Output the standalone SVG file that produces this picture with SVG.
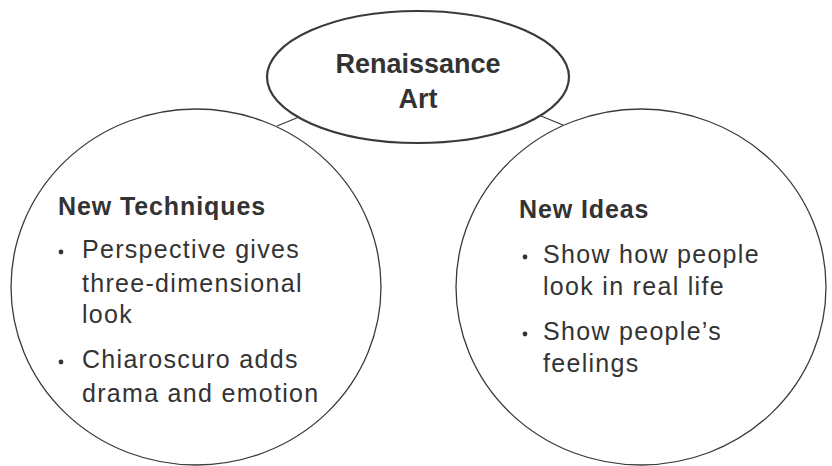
<svg xmlns="http://www.w3.org/2000/svg" width="832" height="466" viewBox="0 0 832 466">
<style>
.bg{fill:#fff}
.node{fill:#fff;stroke:#3a3a3a;stroke-width:1.3}
.main{fill:#fff;stroke:#3a3a3a;stroke-width:2.2}
.conn{stroke:#3a3a3a;stroke-width:1.3;fill:none}
text{font-family:"Liberation Sans",Arial,sans-serif;fill:#333}
.title{font-size:27px;font-weight:bold;text-anchor:middle}
.head{font-size:25px;font-weight:bold;letter-spacing:0.9px}
.item{font-size:25px;letter-spacing:1.3px}
.dot{fill:#333}
</style>
<rect class="bg" x="0" y="0" width="832" height="466"/>
<g id="connectors">
<line class="conn" x1="277" y1="126" x2="299" y2="117"/>
<line class="conn" x1="541" y1="116" x2="563" y2="125"/>
</g>
<g id="new-techniques">
<ellipse class="node" cx="196" cy="287" rx="185" ry="178"/>
<text class="head" x="58" y="215">New Techniques</text>
<circle class="dot" cx="61" cy="252" r="2.4"/>
<text class="item" x="82" y="258">Perspective gives</text>
<text class="item" x="82" y="292">three-dimensional</text>
<text class="item" x="82" y="323">look</text>
<circle class="dot" cx="61" cy="362" r="2.4"/>
<text class="item" x="82" y="368">Chiaroscuro adds</text>
<text class="item" x="82" y="402">drama and emotion</text>
</g>
<g id="new-ideas">
<ellipse class="node" cx="641" cy="287" rx="185" ry="178"/>
<text class="head" x="519" y="218">New Ideas</text>
<circle class="dot" cx="525" cy="257" r="2.4"/>
<text class="item" x="543" y="263">Show how people</text>
<text class="item" x="543" y="295">look in real life</text>
<circle class="dot" cx="525" cy="334" r="2.4"/>
<text class="item" x="543" y="340">Show people’s</text>
<text class="item" x="543" y="372">feelings</text>
</g>
<g id="renaissance-art">
<ellipse class="main" cx="418" cy="77" rx="151" ry="66"/>
<text class="title" x="418" y="73">Renaissance</text>
<text class="title" x="418" y="108">Art</text>
</g>
</svg>
